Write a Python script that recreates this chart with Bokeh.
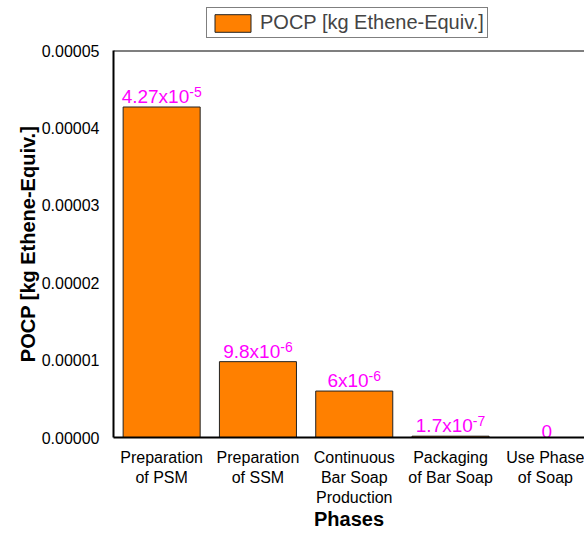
from bokeh.plotting import figure
from bokeh.layouts import column
from bokeh.models import (Range1d, FixedTicker, NumeralTickFormatter, Legend,
                          LegendItem, ColumnDataSource, Span)
from bokeh.core.properties import value
from bokeh.embed import file_html
from bokeh.resources import INLINE

phases = ["Preparation\nof PSM", "Preparation\nof SSM", "Continuous\nBar Soap\nProduction",
          "Packaging\nof Bar Soap", "Use Phase\nof Soap"]
pocp = [4.27e-5, 9.8e-6, 6e-6, 1.7e-7, 0.0]
label_base = ["4.27x10", "9.8x10", "6x10", "1.7x10", "0"]
label_exp = ["-5", "-6", "-6", "-7", ""]
y_ticks = [0, 0.00001, 0.00002, 0.00003, 0.00004, 0.00005]
series_name = "POCP [kg Ethene-Equiv.]"

FONT = "Liberation Sans"
BASE_PX = 19
EXP_PX = 14
BAR_FILL = "#FF8000"
BAR_LINE = "#222222"
# approximate Arial/Liberation Sans advance widths (em) for centering the labels
CW = {".": 0.278, "x": 0.5, "-": 0.333}


def text_w(s, px):
    return sum(CW.get(c, 0.556) for c in s) * px


x_pos = [i + 0.5 for i in range(len(phases))]
wb = [text_w(b, BASE_PX) for b in label_base]
we = [text_w(e, EXP_PX) for e in label_exp]
src = ColumnDataSource(dict(
    x=x_pos, top=pocp, base=label_base, exp=label_exp,
    off_b=[-(b + e) / 2 for b, e in zip(wb, we)],
    off_e=[-(b + e) / 2 + b for b, e in zip(wb, we)],
))

# ---- legend strip (its own small canvas above the chart; frames are aligned) ----
lg = figure(width=584, height=40, output_backend="svg", toolbar_location=None,
            x_range=Range1d(0, 4.891), y_range=Range1d(1, 2),
            x_axis_location=None, y_axis_location=None,
            min_border=0, outline_line_color=None)
lg.grid.visible = False
# same bars, but lying below this strip's visible y-range: only their legend swatch shows
lr = lg.vbar(x="x", top="top", width=0.8, source=src,
             fill_color=BAR_FILL, line_color=BAR_LINE, line_width=1)
legend = Legend(items=[LegendItem(label=series_name, renderers=[lr])],
                location=(93, 2), margin=0, padding=3, spacing=0,
                glyph_width=45, glyph_height=22, label_standoff=5,
                label_text_font=FONT, label_text_font_size="20px",
                label_height=22,
                border_line_color="black", border_line_width=1,
                background_fill_alpha=1)
lg.add_layout(legend)

# ---- main chart ----
p = figure(width=584, height=493, output_backend="svg", toolbar_location=None,
           x_range=Range1d(0, 4.891), y_range=Range1d(0, 0.00005),
           min_border_left=113, min_border_right=0, min_border_top=10, min_border_bottom=96)

p.vbar(x="x", top="top", width=0.8, bottom=0, source=src,
       fill_color=BAR_FILL, line_color=BAR_LINE, line_width=1)

p.text(x="x", y="top", text="base", source=src, text_color="#FF00FF",
       text_font=value(FONT), text_font_size=f"{BASE_PX}px", text_align="left",
       text_baseline="bottom", x_offset="off_b", y_offset=0)
p.text(x="x", y="top", text="exp", source=src, text_color="#FF00FF",
       text_font=value(FONT), text_font_size=f"{EXP_PX}px", text_align="left",
       text_baseline="bottom", x_offset="off_e", y_offset=-10)

p.grid.visible = False
p.outline_line_color = None
p.add_layout(Span(location=0.00005, dimension="width", line_color="black", line_width=2))

xa = p.xaxis[0]
xa.ticker = FixedTicker(ticks=x_pos)
xa.major_label_overrides = {x: lab for x, lab in zip(x_pos, phases)}
xa.major_tick_line_color = None
xa.minor_tick_line_color = None
xa.axis_line_width = 2
xa.major_label_text_font = FONT
xa.major_label_text_font_size = "16px"
xa.major_label_text_color = "black"
xa.major_label_standoff = 5
xa.axis_label = "Phases"
xa.axis_label_text_font = FONT
xa.axis_label_text_font_style = "bold"
xa.axis_label_text_font_size = "20px"
xa.axis_label_text_color = "black"
xa.axis_label_standoff = -1

ya = p.yaxis[0]
ya.ticker = FixedTicker(ticks=y_ticks)
ya.formatter = NumeralTickFormatter(format="0.00000")
ya.major_tick_line_color = None
ya.minor_tick_line_color = None
ya.axis_line_width = 2
ya.major_label_text_font = FONT
ya.major_label_text_font_size = "16px"
ya.major_label_text_color = "black"
ya.major_label_standoff = 8
ya.axis_label = series_name
ya.axis_label_text_font = FONT
ya.axis_label_text_font_style = "bold"
ya.axis_label_text_font_size = "20px"
ya.axis_label_text_color = "black"
ya.axis_label_standoff = 0

layout = column(lg, p, spacing=0)
open("out.html", "w").write(file_html(layout, INLINE))
